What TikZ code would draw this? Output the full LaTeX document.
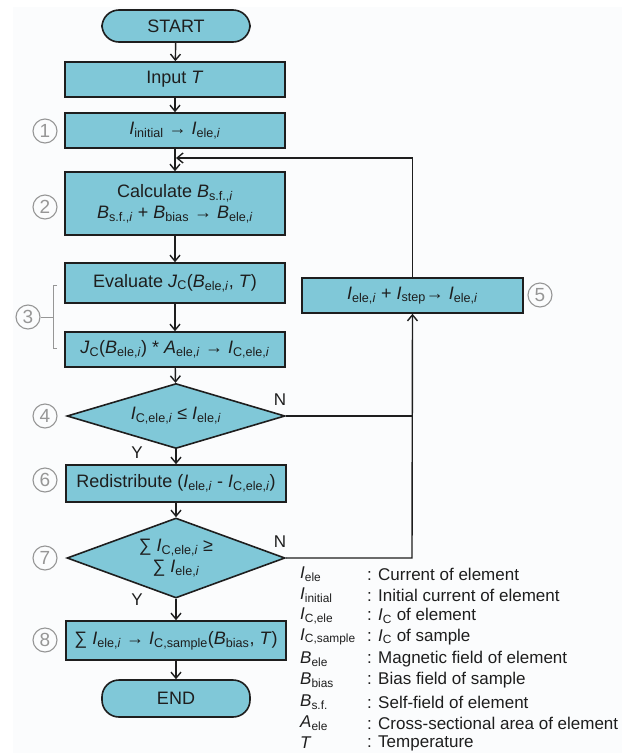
\documentclass[tikz,border=0pt]{standalone}
\usepackage{fontspec}
\setmainfont{Liberation Sans}
\usetikzlibrary{shapes.geometric,arrows.meta}

\definecolor{boxfill}{RGB}{128,200,216}
\definecolor{ringgray}{RGB}{150,150,150}
\definecolor{inkdark}{RGB}{30,30,30}
\definecolor{paper}{RGB}{251,252,253}

\newcommand{\vsub}[2]{\textit{#1}\textsubscript{#2}}
\newcommand{\ii}{\textit{i}}

\begin{document}
\begin{tikzpicture}[x=1pt,y=-1pt,
  font=\fontsize{18}{21}\selectfont, text=inkdark,
  proc/.style={rectangle,draw=inkdark,line width=1.6pt,fill=boxfill,
    minimum width=220pt,align=center,inner sep=0pt},
  term/.style={proc,rounded corners=17pt,minimum width=148pt},
  decide/.style={diamond,draw=inkdark,line width=1.6pt,fill=boxfill,
    minimum width=218pt,aspect=3,align=center,inner sep=0pt},
  flow/.style={draw=inkdark,line width=1.4pt,-{Straight Barb[length=6pt,width=10pt]}},
  wire/.style={draw=inkdark,line width=1.4pt},
  numring/.style={circle,draw=ringgray,text=ringgray,line width=1.1pt,
    minimum size=24pt,inner sep=0pt,font=\fontsize{19}{19}\selectfont},
  yn/.style={font=\fontsize{17}{17}\selectfont},
  legend/.style={anchor=west,inner sep=0pt,font=\fontsize{17}{19}\selectfont}]

  \useasboundingbox (0,0) rectangle (636,753);
  \fill[white] (0,0) rectangle (636,753);
  \fill[paper] (13,7) rectangle (622,753);

  \node[term,minimum height=32pt] (start) at (176,26) {START};
  \node[proc,minimum height=35pt] (input) at (175,79.5) {Input \textit{T}};
  \node[proc,minimum height=35pt] (b1) at (175,130.5) {\vsub{I}{initial} → \vsub{I}{ele,\ii}};
  \node[proc,minimum height=63pt] (b2) at (175,203.5) {Calculate \vsub{B}{s.f.,\ii}\\
    \vsub{B}{s.f.,\ii} + \vsub{B}{bias} → \vsub{B}{ele,\ii}};
  \node[proc,minimum height=40pt] (b3a) at (175,283) {Evaluate \vsub{J}{C}(\vsub{B}{ele,\ii}, \textit{T})};
  \node[proc,minimum height=35pt] (b3b) at (175,349.5) {\vsub{J}{C}(\vsub{B}{ele,\ii}) * \vsub{A}{ele,\ii} → \vsub{I}{C,ele,\ii}};
  \node[decide,minimum height=65pt] (d4) at (176,416) {\vsub{I}{C,ele,\ii} ≤ \vsub{I}{ele,\ii}};
  \node[proc,minimum height=37pt] (b6) at (176,483.5) {Redistribute (\vsub{I}{ele,\ii} - \vsub{I}{C,ele,\ii})};
  \node[decide,minimum height=80pt] (d7) at (176,558) {∑ \vsub{I}{C,ele,\ii} ≥\\ ∑ \vsub{I}{ele,\ii}};
  \node[proc,minimum height=39pt] (b8) at (176,640.5) {∑ \vsub{I}{ele,\ii} → \vsub{I}{C,sample}(\vsub{B}{bias}, \textit{T})};
  \node[term,minimum height=37pt] (end) at (176,698.5) {END};
  \node[proc,minimum height=35pt,minimum width=221pt] (b5) at (412.5,295.5) {\vsub{I}{ele,\ii} + \vsub{I}{step}→ \vsub{I}{ele,\ii}};

  \coordinate (join) at (176,158);
  \coordinate (c4) at (412,416);
  \coordinate (c7) at (412,558);

  \draw[flow] (start) -- (input);
  \draw[flow] (input) -- (b1);
  \draw[flow] (b1) -- (b2);
  \draw[flow] (b2) -- (b3a);
  \draw[flow] (b3a) -- (b3b);
  \draw[flow] (b3b) -- (d4);
  \draw[flow] (d4) -- (b6);
  \draw[flow] (b6) -- (d7);
  \draw[flow] (d7) -- (b8);
  \draw[flow] (b8) -- (end);
  \draw[wire] (d4.east) -- (c4);
  \draw[flow] (d7.east) -- (c7) -- (b5.south);
  \draw[flow] (b5.north) |- (join);

  \node[yn] (n4) at (280,400) {N};
  \node[yn] (y4) at (137,453) {Y};
  \node[yn] (n7) at (280,542) {N};
  \node[yn] (y7) at (137,600) {Y};

  \node[numring] (r1) at (45,131) {1};
  \node[numring] (r2) at (45,207) {2};
  \node[numring] (r3) at (28,317) {3};
  \node[numring] (r4) at (45,416) {4};
  \node[numring] (r5) at (540,295) {5};
  \node[numring] (r6) at (45,480) {6};
  \node[numring] (r7) at (45,558) {7};
  \node[numring] (r8) at (45,640) {8};
  \draw[ringgray,line width=1pt] (57,285) -- (53,285) -- (53,348) -- (57,348)
    (53,317) -- (r3.east);

  \node[legend] (s1) at (300,574) {\vsub{I}{ele}};
  \node[legend] (s2) at (300,595) {\vsub{I}{initial}};
  \node[legend] (s3) at (300,616) {\vsub{I}{C,ele}};
  \node[legend] (s4) at (300,637) {\vsub{I}{C,sample}};
  \node[legend] (s5) at (300,659) {\vsub{B}{ele}};
  \node[legend] (s6) at (300,680) {\vsub{B}{bias}};
  \node[legend] (s7) at (300,702) {\vsub{B}{s.f.}};
  \node[legend] (s8) at (300,723) {\vsub{A}{ele}};
  \node[legend] (s9) at (300,743) {\textit{T}};
  \node[legend] (t1) at (367,574) {: Current of element};
  \node[legend] (t2) at (367,595) {: Initial current of element};
  \node[legend] (t3) at (367,616) {: \vsub{I}{C} of element};
  \node[legend] (t4) at (367,637) {: \vsub{I}{C} of sample};
  \node[legend] (t5) at (367,659) {: Magnetic field of element};
  \node[legend] (t6) at (367,680) {: Bias field of sample};
  \node[legend] (t7) at (367,702) {: Self-field of element};
  \node[legend] (t8) at (367,723) {: Cross-sectional area of element};
  \node[legend] (t9) at (367,743) {: Temperature};

\end{tikzpicture}
\end{document}
